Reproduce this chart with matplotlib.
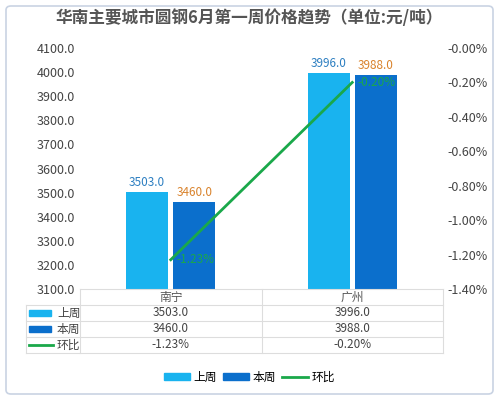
import matplotlib.pyplot as plt
import matplotlib.patches as mpatches
from matplotlib.lines import Line2D
import numpy as np

plt.rcParams['font.family'] = ['Noto Sans CJK SC', 'DejaVu Sans']

cities = ['南宁', '广州']
last_week = [3503.0, 3996.0]
this_week = [3460.0, 3988.0]
change = [-1.23, -0.20]

c_last = '#19b3ef'
c_this = '#0b6fcc'
c_line = '#1aa84a'

W, H = 499, 400
fig = plt.figure(figsize=(W / 100, H / 100), dpi=100)
fig.patch.set_facecolor('white')
fig.patches.append(mpatches.FancyBboxPatch((6 / W, 6 / H), 487 / W, 388 / H,
                                           boxstyle='round,pad=0,rounding_size=0.01',
                                           transform=fig.transFigure, fill=False,
                                           edgecolor='#c9d3e3', lw=1.2))

L, R, T, B = 80, 443, 48, 289
ax = fig.add_axes([L / W, 1 - B / H, (R - L) / W, (B - T) / H])
x = np.arange(len(cities))
bw = 0.23
ax.bar(x - 0.13, last_week, bw, color=c_last)
ax.bar(x + 0.13, this_week, bw, color=c_this)
ax.set_xlim(-0.5, 1.5)
ax.set_ylim(3100, 4100)
ax.set_yticks(np.arange(3100, 4101, 100))
ax.set_yticklabels([f'{v:.1f}' for v in np.arange(3100, 4101, 100)], fontsize=9, color='#444444')
ax.set_xticks([])
for s in ax.spines.values():
    s.set_visible(False)
ax.tick_params(length=0)
for i in range(len(cities)):
    ax.text(x[i] - 0.13, last_week[i] + 12, f'{last_week[i]:.1f}', ha='center', va='bottom',
            fontsize=8.5, color='#2d7fc1')
    ax.text(x[i] + 0.13, this_week[i] + 12, f'{this_week[i]:.1f}', ha='center', va='bottom',
            fontsize=8.5, color='#d9822b')

ax2 = ax.twinx()
ax2.plot(x, change, color=c_line, lw=2)
ax2.set_ylim(-1.4, 0)
ax2.set_yticks(np.arange(-1.4, 0.01, 0.2))
ax2.set_yticklabels([f'{v:.2f}%' for v in np.arange(-1.4, 0.01, 0.2)], fontsize=9, color='#444444')
ax2.set_xlim(-0.5, 1.5)
for s in ax2.spines.values():
    s.set_visible(False)
ax2.tick_params(length=0)
for i in range(len(cities)):
    ax2.text(x[i] + 0.03, change[i], f'{change[i]:.2f}%', ha='left', va='center',
             fontsize=8.5, color=c_line)

fig.text(0.5, 1 - 18 / H, '华南主要城市圆钢6月第一周价格趋势（单位:元/吨）', ha='center', va='center',
         fontsize=12, fontweight='bold', color='#555555')

# data table
rows_y = [289, 305, 321, 337, 353]
grid = '#dddddd'
def fx(px):
    return px / W
def fy(py):
    return 1 - py / H
fig.add_artist(Line2D([fx(L), fx(R)], [fy(rows_y[0])] * 2, color=grid, lw=0.8))
for yy in rows_y[1:]:
    fig.add_artist(Line2D([fx(26), fx(R)], [fy(yy)] * 2, color=grid, lw=0.8))
for xx in [L, (L + R) / 2, R]:
    fig.add_artist(Line2D([fx(xx)] * 2, [fy(rows_y[0]), fy(rows_y[-1])], color=grid, lw=0.8))
fig.add_artist(Line2D([fx(26)] * 2, [fy(rows_y[1]), fy(rows_y[-1])], color=grid, lw=0.8))

cx = [L + (R - L) / 4, L + 3 * (R - L) / 4]
rows = [[f'{v:.1f}' for v in last_week], [f'{v:.1f}' for v in this_week],
        [f'{v:.2f}%' for v in change]]
names = ['上周', '本周', '环比']
for j, c in enumerate(cities):
    fig.text(fx(cx[j]), fy(297), c, ha='center', va='center', fontsize=8.5, color='#555555')
for r in range(3):
    yc = fy((rows_y[r + 1] + rows_y[r + 2]) / 2)
    for j in range(2):
        fig.text(fx(cx[j]), yc, rows[r][j], ha='center', va='center', fontsize=8.5, color='#444444')
    if r < 2:
        fig.patches.append(mpatches.Rectangle((fx(29), yc - 3 / H), 22 / W, 6 / H,
                                              color=[c_last, c_this][r], transform=fig.transFigure))
    else:
        fig.add_artist(Line2D([fx(29), fx(53)], [yc, yc], color=c_line, lw=2))
    fig.text(fx(57), yc, names[r], ha='left', va='center', fontsize=8.5, color='#444444')

handles = [mpatches.Patch(color=c_last, label='上周'), mpatches.Patch(color=c_this, label='本周'),
           Line2D([], [], color=c_line, lw=2, label='环比')]
fig.legend(handles=handles, loc='center', bbox_to_anchor=(0.5, 1 - 377 / H), ncol=3, frameon=False,
           fontsize=8.5, handlelength=2.2, handleheight=0.6, columnspacing=0.5, handletextpad=0.3)

fig.savefig('out.png', dpi=100)
